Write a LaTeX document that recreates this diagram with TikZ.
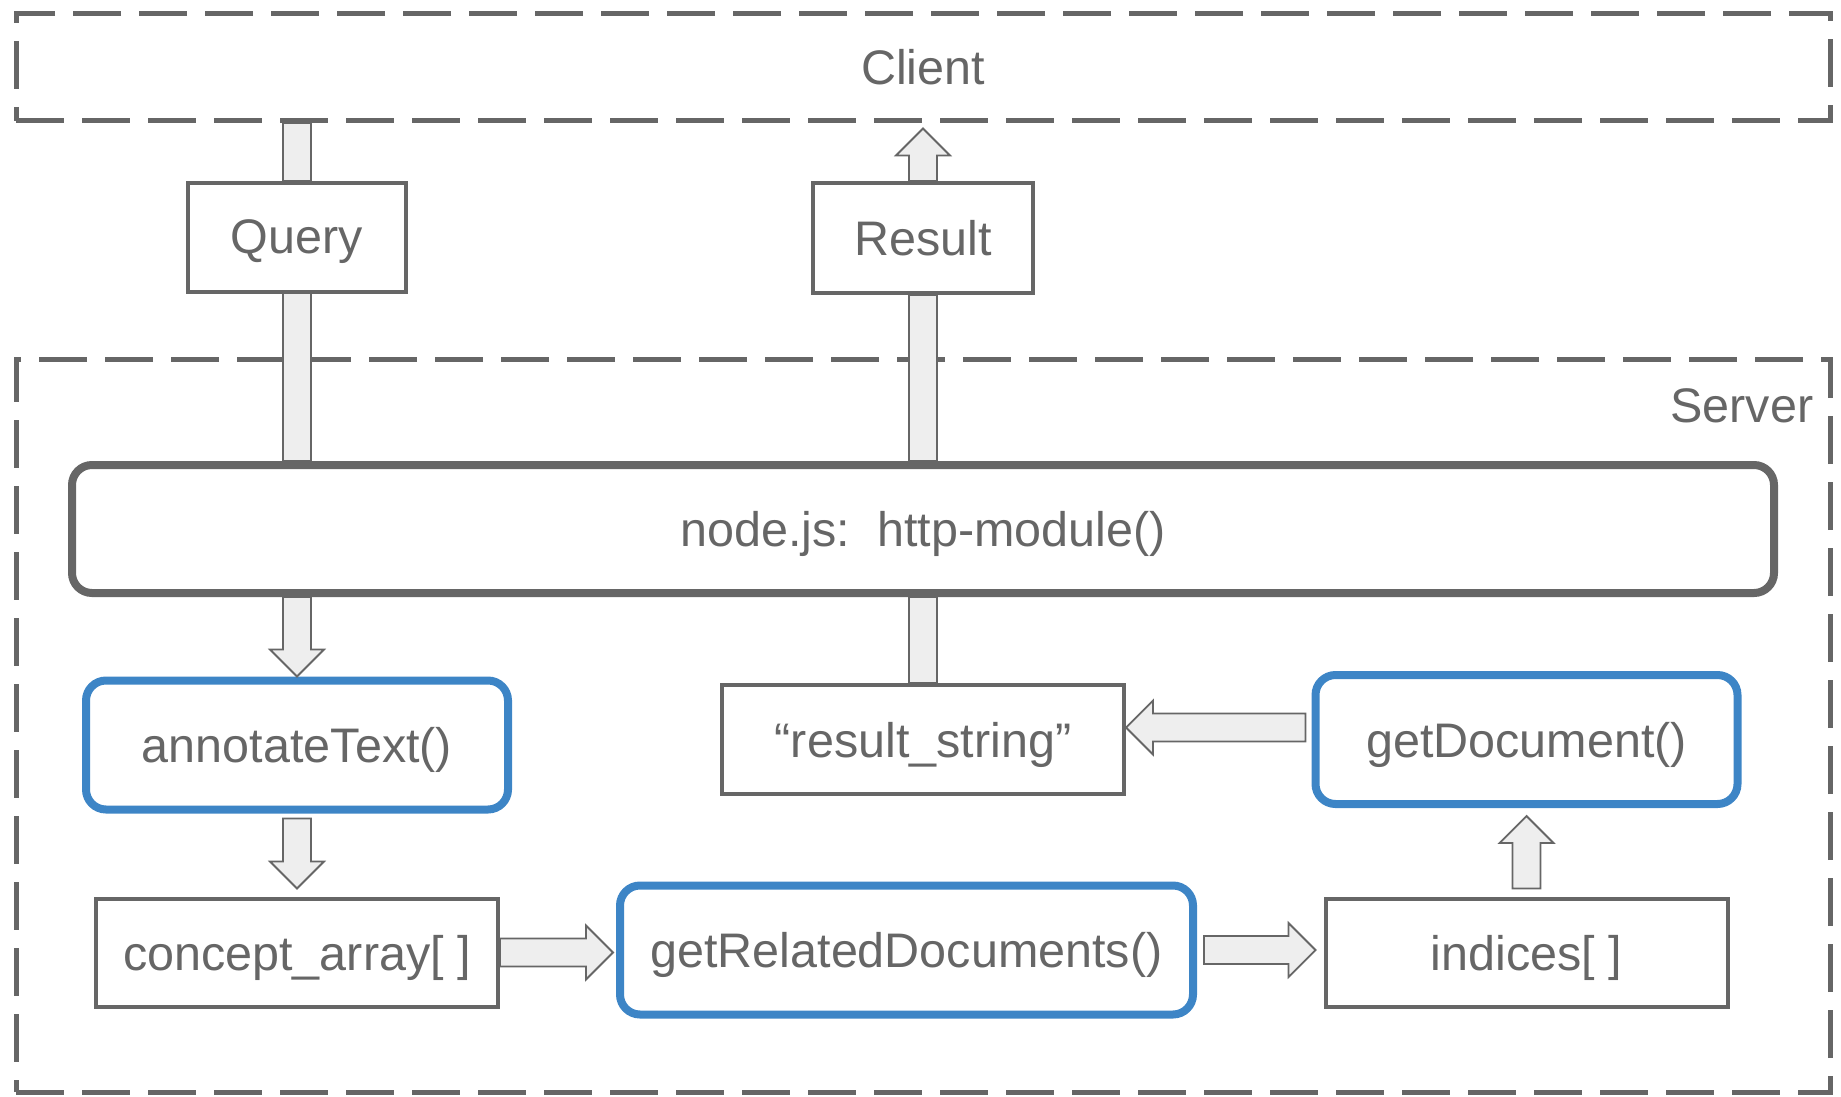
\documentclass[tikz,border=0pt]{standalone}
\usepackage{fontspec}
\setmainfont{Liberation Sans}
\usetikzlibrary{calc}
\definecolor{txtgray}{HTML}{666666}
\definecolor{fnblue}{HTML}{3D85C6}
\definecolor{arrowfill}{HTML}{EEEEEE}
\tikzset{
  zone/.style={draw=txtgray, line width=5pt, dash pattern=on 48pt off 18pt, inner sep=0pt, minimum width=1814pt},
  databox/.style={draw=txtgray, line width=4pt, fill=white, inner sep=0pt, text depth=0pt, minimum width=402pt, minimum height=108pt},
  funcbox/.style={draw=fnblue, line width=8pt, rounded corners=20pt, fill=white, inner sep=0pt, text depth=0pt, minimum width=422pt, minimum height=129pt},
  blockarrow/.style={draw=txtgray, line width=1.8pt, fill=arrowfill, line join=miter},
}
\def\shaftw{14pt}
\def\headw{27pt}
\def\headl{27pt}
\def\blockarrow(#1)(#2){\coordinate (ba-c) at ($(#2)!\headl!(#1)$);
  \draw[blockarrow] ($(#1)!\shaftw!90:(#2)$) -- ($(ba-c)!\shaftw!90:(#2)$) -- ($(ba-c)!\headw!90:(#2)$) -- (#2)
    -- ($(ba-c)!\headw!-90:(#2)$) -- ($(ba-c)!\shaftw!-90:(#2)$) -- ($(#1)!\shaftw!-90:(#2)$) -- cycle}
\def\blockbar(#1)(#2){\draw[blockarrow] ($(#1)!\shaftw!90:(#2)$) -- ($(#2)!\shaftw!-90:(#1)$)
    -- ($(#2)!\shaftw!90:(#1)$) -- ($(#1)!\shaftw!-90:(#2)$) -- cycle}

\begin{document}
\begin{tikzpicture}[x=1pt, y=-1pt, font=\fontsize{48.5pt}{58pt}\selectfont, text=txtgray]
	\useasboundingbox (0,0) rectangle (1841,1097);
	
	% client and server zones
	\node[zone, minimum height=107pt] (client) at (923,67.5) {Client};
	\node[zone, minimum height=733pt] (server) at (923,725.5) {};
	\node[anchor=base east, inner sep=0pt] (serverlabel) at ($(server.north east)+(-19,66)$) {Server};
	
	\node[databox, minimum width=218pt, minimum height=109pt] (query) at (297,237) {Query};
	\node[databox, minimum width=220pt, minimum height=110pt] (result) at (923,238) {Result};
	
	\node[draw=txtgray, line width=8pt, rounded corners=20pt, inner sep=0pt, text depth=0pt, minimum width=1702pt, minimum height=128pt] (nodejs) at (923,529) {node.js:\ \ http-module()};
	
	\node[funcbox] (annotate) at (297,745) {annotateText()};
	\node[databox] (concept) at (297,952.5) {concept\_array[ ]};
	\node[funcbox, minimum width=573pt] (getrel) at (906.5,950) {getRelatedDocuments()};
	\node[databox] (indices) at (1526.5,952.5) {indices[ ]};
	\node[funcbox] (getdoc) at (1526.5,739.5) {getDocument()};
	\node[databox, minimum height=109pt] (resultstr) at (923,739.5) {“result\_string”};
	
	% free ends
	\coordinate (querytop) at (query.north |- client.south);
	\coordinate (queryin) at (query.south |- nodejs.north);
	\coordinate (resulttip) at ($(result.north |- client.south)+(0,5)$);
	\coordinate (resultout) at (result.south |- nodejs.north);
	\coordinate (annotatein) at (annotate.north |- nodejs.south);
	\coordinate (stringout) at (resultstr.north |- nodejs.south);
	\coordinate (conceptstart) at ($(annotate.south)+(0,5)$);
	\coordinate (concepttip) at ($(concept.north)+(0,-8)$);
	\coordinate (getreltip) at ($(getrel.west |- concept.east)+(-3,0)$);
	\coordinate (indicesstart) at ($(getrel.east)+(7,0)$);
	\coordinate (indicestip) at ($(indices.west |- getrel.east)+(-8,0)$);
	\coordinate (getdocstart) at ($(indices.north)+(0,-8)$);
	\coordinate (getdoctip) at ($(getdoc.south)+(0,8)$);
	\coordinate (stringstart) at ($(getdoc.west)+(-6,-12)$);
	\coordinate (stringtip) at ($(resultstr.east)+(0,-12)$);
	
	% request and reply
	\blockbar(querytop)(query.north);
	\blockbar(query.south)(queryin);
	\blockarrow(result.north)(resulttip);
	\blockbar(resultout)(result.south);
	
	% pipeline
	\blockarrow(annotatein)(annotate.north);
	\blockarrow(conceptstart)(concepttip);
	\blockarrow(concept.east)(getreltip);
	\blockarrow(indicesstart)(indicestip);
	\blockarrow(getdocstart)(getdoctip);
	\blockarrow(stringstart)(stringtip);
	\blockbar(resultstr.north)(stringout);
\end{tikzpicture}
\end{document}
